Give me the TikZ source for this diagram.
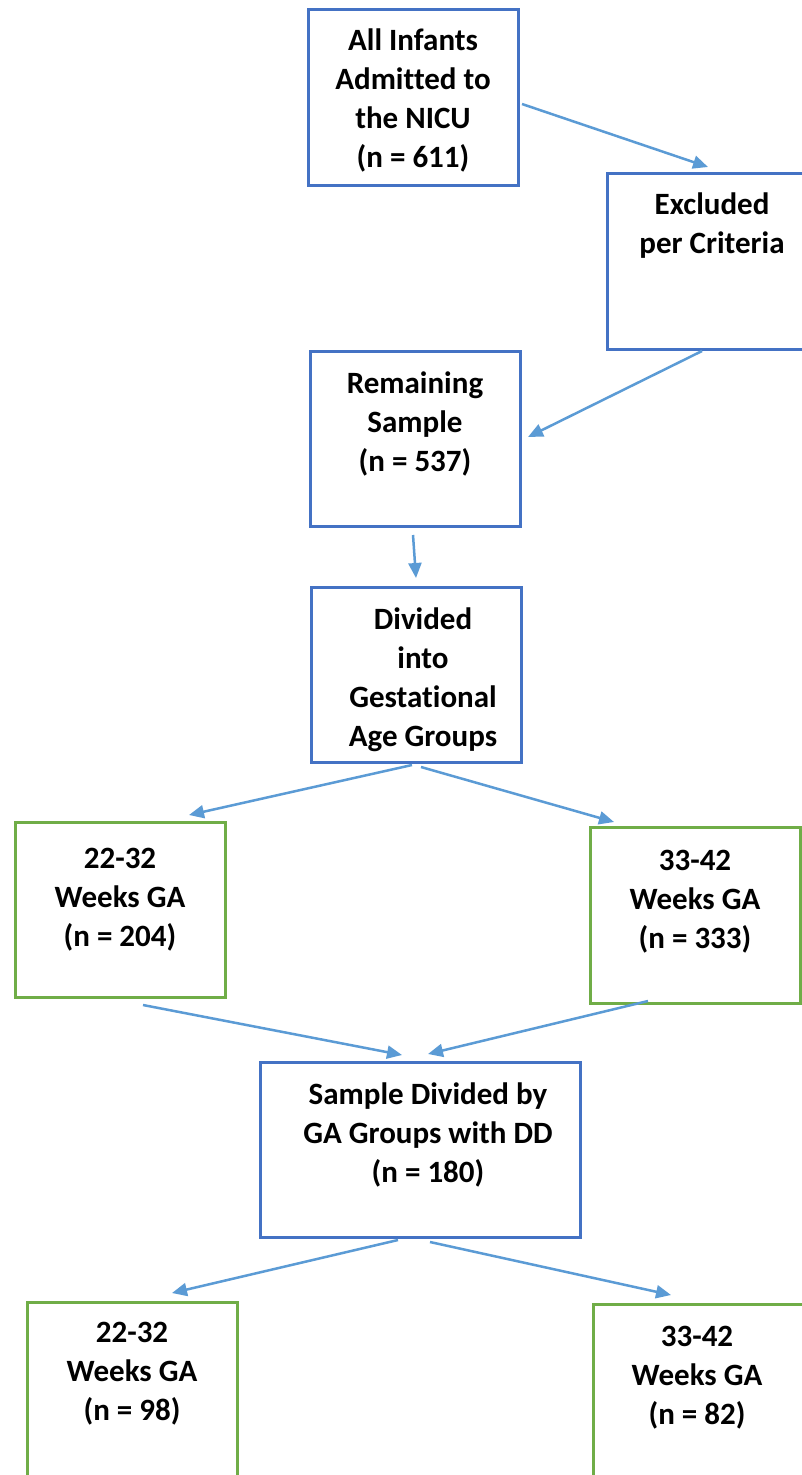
\documentclass[tikz,border=0pt]{standalone}
\usepackage{fontspec}
\setmainfont[Ligatures=NoCommon]{Carlito}
\usetikzlibrary{arrows.meta}
\definecolor{boxblue}{HTML}{4472C4}
\definecolor{arrblue}{HTML}{5B9BD5}
\definecolor{boxgreen}{HTML}{70AD47}
\begin{document}
\begin{tikzpicture}[x=1pt,y=-1pt,
  box/.style={draw, line width=3pt, minimum width=210pt, minimum height=176pt, inner sep=0pt, outer sep=0pt},
  bluebox/.style={box, draw=boxblue},
  greenbox/.style={box, draw=boxgreen},
  lbl/.style={font=\fontsize{31}{39}\selectfont\bfseries, align=center, inner sep=0pt},
  arr/.style={draw=arrblue, line width=2.5pt, -{Triangle[length=15pt,width=13pt]}}]
\fill[white] (0,0) rectangle (802,1475);
\useasboundingbox (0,0) rectangle (802,1475);
\clip (0,0) rectangle (802,1475);
% boxes
\node[bluebox] (b1) at (413,97) {};
\node[bluebox] (excl) at (712,261) {};
\node[bluebox, minimum height=175pt] (rem) at (415,438.5) {};
\node[bluebox, minimum height=175pt] (div) at (416,674.5) {};
\node[greenbox, minimum height=175pt] (g1) at (120,909.5) {};
\node[greenbox] (g2) at (695,915) {};
\node[bluebox, minimum width=320pt, minimum height=175pt] (sd) at (420,1149.5) {};
\node[greenbox] (h1) at (132.5,1390) {};
\node[greenbox] (h2) at (698,1392) {};
% texts
\node[lbl] (t1) at (413,100) {All Infants\\Admitted to\\the NICU\\(n = 611)};
\node[lbl] (t2) at (712,226) {Excluded\\per Criteria};
\node[lbl] (t3) at (415,423.5) {Remaining\\Sample\\(n = 537)};
\node[lbl] (t4) at (423,679.5) {Divided\\into\\Gestational\\Age Groups};
\node[lbl] (t5) at (120,899.5) {22-32\\Weeks GA\\(n = 204)};
\node[lbl] (t6) at (695,901.5) {33-42\\Weeks GA\\(n = 333)};
\node[lbl] (t7) at (428,1134.5) {Sample Divided by\\GA Groups with DD\\(n = 180)};
\node[lbl] (t8) at (132,1373.5) {22-32\\Weeks GA\\(n = 98)};
\node[lbl] (t9) at (697,1377.5) {33-42\\Weeks GA\\(n = 82)};
% arrows
\draw[arr] ([shift={(4,7)}]b1.east) -- ([shift={(-4,-6)}]excl.north);
\draw[arr] ([shift={(-10,2)}]excl.south) -- ([shift={(8,-1.5)}]rem.east);
\draw[arr] ([shift={(-2,9)}]rem.south) -- ([shift={(0,-9)}]div.north);
\draw[arr] ([shift={(-4,3)}]div.south) -- ([shift={(69,-7)}]g1.north);
\draw[arr] ([shift={(5,5)}]div.south) -- ([shift={(-81,-5)}]g2.north);
\draw[arr] ([shift={(23,8)}]g1.south) -- ([shift={(-18,-7)}]sd.north);
\draw[arr] ([shift={(-47,-2)}]g2.south) -- ([shift={(8,-8)}]sd.north);
\draw[arr] ([shift={(-22,3)}]sd.south) -- ([shift={(39.5,-9)}]h1.north);
\draw[arr] ([shift={(10,5)}]sd.south) -- ([shift={(-27,-9)}]h2.north);
\end{tikzpicture}
\end{document}
